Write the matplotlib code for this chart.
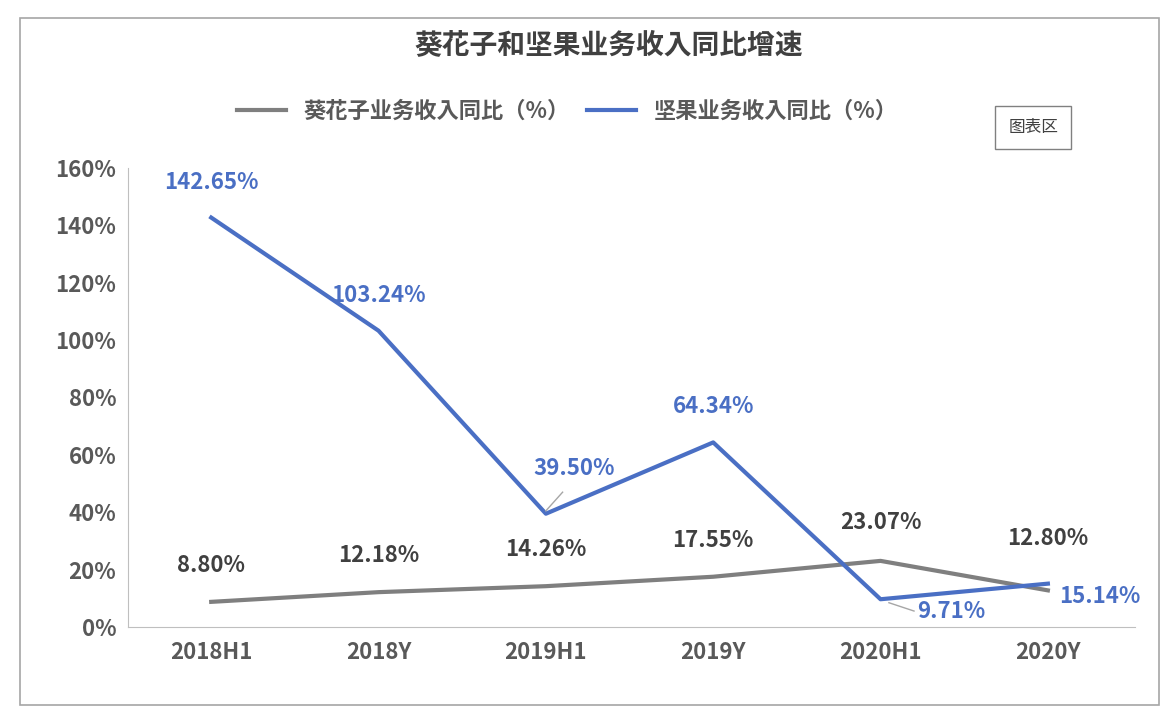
import matplotlib.pyplot as plt
from matplotlib.patches import Rectangle

plt.rcParams['font.family'] = ['Noto Sans CJK SC', 'Noto Sans CJK JP', 'Noto Sans CJK TC',
                               'Noto Sans CJK KR', 'DejaVu Sans']

categories = ['2018H1', '2018Y', '2019H1', '2019Y', '2020H1', '2020Y']
seeds = [8.80, 12.18, 14.26, 17.55, 23.07, 12.80]
nuts = [142.65, 103.24, 39.50, 64.34, 9.71, 15.14]
y_ticks = [0, 20, 40, 60, 80, 100, 120, 140, 160]

gray = '#7f7f7f'
blue = '#4a6fc4'
text_gray = '#404040'

fig = plt.figure(figsize=(11.7, 7.2), dpi=100)
fig.patches.append(Rectangle((0.017, 0.021), 0.974, 0.954, transform=fig.transFigure,
                             fill=False, edgecolor='#a6a6a6', linewidth=1.2))

ax = fig.add_axes([0.109, 0.129, 0.861, 0.638])
x = list(range(len(categories)))
ax.plot(x, seeds, color=gray, linewidth=3, label='葵花子业务收入同比（%）')
ax.plot(x, nuts, color=blue, linewidth=3, label='坚果业务收入同比（%）')

ax.set_xlim(-0.5, 5.52)
ax.set_ylim(0, 160)
ax.set_xticks(x)
ax.set_xticklabels(categories, fontsize=16, fontweight='bold', color='#595959')
ax.set_yticks(y_ticks)
ax.set_yticklabels([f'{v}%' for v in y_ticks], fontsize=16, fontweight='bold', color='#595959')
ax.tick_params(axis='y', length=0, pad=8)
ax.tick_params(axis='x', length=0, pad=10)
for s in ['top', 'right']:
    ax.spines[s].set_visible(False)
for s in ['left', 'bottom']:
    ax.spines[s].set_color('#bfbfbf')

# data labels (positions in data coords)
seed_pos = [(0, 21.6), (1, 25.1), (2, 27.2), (3, 30.0), (4, 36.6), (5, 31.0)]
nut_pos = [(0, 154.8), (1, 115.4), (2.17, 55.4), (3, 76.7), (4.42, 5.6), (5.31, 10.8)]
for (px, py), v in zip(seed_pos, seeds):
    ax.text(px, py, f'{v:.2f}%', ha='center', va='center', fontsize=16,
            fontweight='bold', color=text_gray)
for (px, py), v in zip(nut_pos, nuts):
    ax.text(px, py, f'{v:.2f}%', ha='center', va='center', fontsize=16,
            fontweight='bold', color=blue)
# leader lines
ax.plot([2.0, 2.1], [40.5, 47], color='#a6a6a6', linewidth=1)
ax.plot([4.05, 4.2], [8.5, 5.6], color='#a6a6a6', linewidth=1)

fig.text(0.52, 0.938, '葵花子和坚果业务收入同比增速', ha='center', va='center',
         fontsize=20, fontweight='bold', color='#404040')
leg = fig.legend(loc='center', bbox_to_anchor=(0.485, 0.845), ncol=2, frameon=False,
                 handlelength=2.2, columnspacing=0.8,
                 prop={'weight': 'bold', 'size': 16})
for t in leg.get_texts():
    t.set_color('#595959')
fig.text(0.883, 0.823, '图表区', ha='center', va='center', fontsize=12, color='#404040',
         bbox=dict(boxstyle='square,pad=0.8', facecolor='white', edgecolor='#808080'))

fig.savefig('out.png', dpi=100)
